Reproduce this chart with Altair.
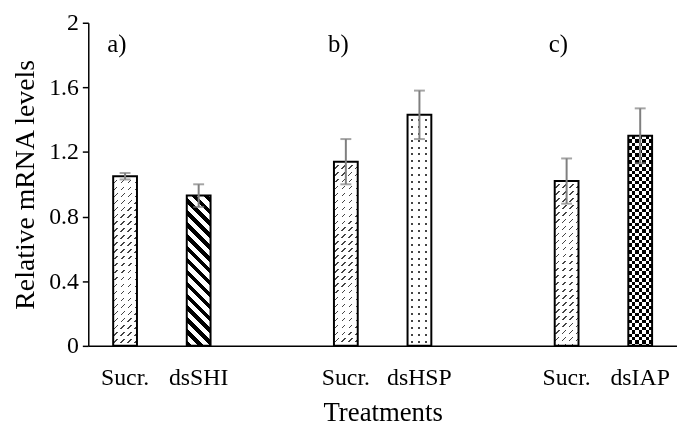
import altair as alt
import pandas as pd

# ---- data ----
groups = ["a", "a", "b", "b", "c", "c"]
treatments = ["Sucr.", "dsSHI", "Sucr.", "dsHSP", "Sucr.", "dsIAP"]
means = [1.05, 0.93, 1.14, 1.43, 1.02, 1.30]
errors = [0.02, 0.07, 0.14, 0.15, 0.14, 0.17]
panel_groups = ["a", "b", "c"]
panel_labels = ["a)", "b)", "c)"]
y_ticks = [0, 0.4, 0.8, 1.2, 1.6, 2]
slot_order = ["a|Sucr.", "a|dsSHI", "gap1", "b|Sucr.", "b|dsHSP", "gap2", "c|Sucr.", "c|dsIAP"]

FONT = "Liberation Serif"
PLOT_W, PLOT_H = 594, 326
Y_MAX = 2.0
BAR_W = 24
ERR_COLOR = "#7f7f7f"
CLEAR = "rgba(255,255,255,0)"

df = pd.DataFrame({"group": groups, "treatment": treatments, "mean": means, "err": errors})
df["key"] = df["group"] + "|" + df["treatment"]
df["lo"] = df["mean"] - df["err"]
df["hi"] = df["mean"] + df["err"]

lab_df = pd.DataFrame({"key": [g + "|Sucr." for g in panel_groups], "label": panel_labels})


def make_stops(extent, period, on, on_color, off_color, phase):
    stops = []
    s = -phase
    while s < extent:
        a = max(s, 0.0)
        b = min(max(s + on, 0.0), extent)
        c = min(max(s + period, 0.0), extent)
        for off, col in ((a, on_color), (b, on_color), (b, off_color), (c, off_color)):
            stops.append({"offset": round(off / extent, 5), "color": col})
        s += period
    return stops


def gradient(kind, h, period, on, on_color, off_color, phase=0.0):
    w = float(BAR_W)
    if kind == "v":
        x1, y1, x2, y2, ext = 0, 0, 1, 0, w
    elif kind == "h":
        x1, y1, x2, y2, ext = 0, 0, 0, 1, h
    else:
        k = (w + h) / (w * w + h * h)
        ext = w + h
        if kind == "fwd":
            x1, y1, x2, y2 = 0, 0, w * k, h * k
        else:
            x1, y1, x2, y2 = 0, 1, w * k, 1 - h * k
    return {"gradient": "linear", "x1": x1, "y1": y1, "x2": x2, "y2": y2,
            "stops": make_stops(ext, period, on, on_color, off_color, phase)}


pattern_specs = {
    "Sucr.": [("fwd", 7, 1.6, "#444444", "#ffffff", 0, None),
              ("h", 7, 3.4, "#ffffff", CLEAR, 0, None)],
    "dsSHI": [("back", 12, 5.5, "#000000", "#ffffff", 0, None)],
    "dsHSP": [("v", 7, 2.0, "#444444", "#ffffff", 3.5, None),
              ("h", 7, 5, "#ffffff", CLEAR, 1, None)],
    "dsIAP": [("v", 7, 3.5, "#000000", "#ffffff", 0, None),
              ("h", 7, 3.5, "#ffffff", "#000000", 0, "difference")],
}

x_axis = alt.Axis(
    title="Treatments",
    labelExpr="indexof(datum.value, '|') > 0 ? split(datum.value, '|')[1] : ''",
    labelAngle=0, ticks=False, tickSize=0, labelPadding=39, labelBaseline="alphabetic",
    labelFont=FONT, labelFontSize=24, labelColor="black",
    titleFont=FONT, titleFontSize=27, titleFontWeight="normal", titleColor="black",
    titleY=75, titleBaseline="alphabetic",
    domainColor="black", domainWidth=1.5, grid=False,
)
y_axis = alt.Axis(
    title="Relative mRNA levels", values=y_ticks, format="~g",
    labelFont=FONT, labelFontSize=24, labelColor="black", labelPadding=4,
    tickColor="black", tickSize=6, tickWidth=1.5,
    domainColor="black", domainWidth=1.5, grid=False,
    titleFont=FONT, titleFontSize=28, titleFontWeight="normal", titleColor="black",
    titleX=-55, titleY=PLOT_H / 2, titleBaseline="alphabetic", titleAlign="center",
)
x_enc = alt.X("key:N", scale=alt.Scale(domain=slot_order, paddingInner=0, paddingOuter=0), axis=x_axis)
y_scale = alt.Scale(domain=[0, Y_MAX], nice=False, zero=True)

base = alt.Chart(df)
layers = []
for i in range(len(df)):
    key = df["key"][i]
    h = df["mean"][i] / Y_MAX * PLOT_H
    for kind, period, on, c_on, c_off, phase, blend in pattern_specs[df["treatment"][i]]:
        mk = dict(size=BAR_W, fill=gradient(kind, h, period, on, c_on, c_off, phase), strokeWidth=0)
        if blend:
            mk["blend"] = blend
        layers.append(
            base.transform_filter(alt.datum.key == key).mark_bar(**mk).encode(
                x=x_enc, y=alt.Y("mean:Q", scale=y_scale, axis=y_axis)
            )
        )

outline = base.mark_bar(size=BAR_W, fill="transparent", stroke="black", strokeWidth=2).encode(
    x=x_enc, y=alt.Y("mean:Q", scale=y_scale, axis=y_axis)
)
err_rule = base.mark_rule(color=ERR_COLOR, strokeWidth=2).encode(
    x=x_enc, y=alt.Y("lo:Q", scale=y_scale, axis=y_axis), y2="hi:Q"
)
err_caps = base.transform_fold(["lo", "hi"], as_=["end", "val"]).mark_tick(
    color=ERR_COLOR, size=11, thickness=2
).encode(x=x_enc, y=alt.Y("val:Q", scale=y_scale, axis=y_axis))

labels = alt.Chart(lab_df).mark_text(
    align="left", baseline="alphabetic", dx=-18, font=FONT, fontSize=25, color="black"
).encode(x=x_enc, y=alt.Y(datum=1.82, scale=y_scale, axis=y_axis), text="label:N")

chart = alt.layer(*layers, outline, err_rule, err_caps, labels).properties(
    width=PLOT_W, height=PLOT_H,
    autosize=alt.AutoSizeParams(type="none"),
    padding={"left": 81, "top": 13, "right": 0, "bottom": 80},
    background="white",
).configure_view(strokeWidth=0)

chart.save("out.html", embed_options={"renderer": "svg", "actions": False})
